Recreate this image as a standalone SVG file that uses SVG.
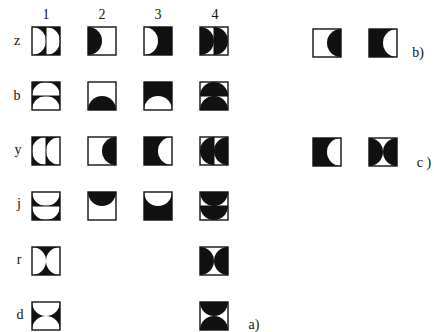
<svg xmlns="http://www.w3.org/2000/svg" xmlns:xlink="http://www.w3.org/1999/xlink" width="434" height="332" viewBox="0 0 434 332">
<style>
.bg{fill:#fff}
.k{fill:#111}
.w{fill:#fff}
.fr{fill:none;stroke:#111;stroke-width:1.4}
.dv{stroke:#111;stroke-width:1}
.t{font-family:"Liberation Serif","DejaVu Serif",serif;font-size:14px;fill:#111;text-anchor:middle}
</style>
<defs>
<path id="DL2" d="M0,0A14,14 0 0 1 0,28ZM14,0A14,14 0 0 1 14,28Z"/>
<path id="DL" d="M0,0A14,14 0 0 1 0,28Z"/>
<path id="DR2" d="M14,0A14,14 0 0 0 14,28ZM28,0A14,14 0 0 0 28,28Z"/>
<path id="DR" d="M28,0A14,14 0 0 0 28,28Z"/>
<path id="UB2" d="M0,14A14,14 0 0 1 28,14ZM0,28A14,14 0 0 1 28,28Z"/>
<path id="UB" d="M0,28A14,14 0 0 1 28,28Z"/>
<path id="DT2" d="M0,0A14,14 0 0 0 28,0ZM0,14A14,14 0 0 0 28,14Z"/>
<path id="DT" d="M0,0A14,14 0 0 0 28,0Z"/>
<path id="LR" d="M0,0A14,14 0 0 1 0,28ZM28,0A14,14 0 0 0 28,28Z"/>
<path id="TB" d="M0,0A14,14 0 0 0 28,0ZM0,28A14,14 0 0 1 28,28Z"/>
<rect id="box" width="28" height="28"/>
<line id="vl" x1="14" y1="0" x2="14" y2="28"/>
<line id="hl" x1="0" y1="14" x2="28" y2="14"/>
</defs>
<rect width="434" height="332" class="bg"/>

<g id="labels">
<text class="t" x="46" y="19" font-size="13">1</text>
<text class="t" x="102" y="19" font-size="13">2</text>
<text class="t" x="158" y="19" font-size="13">3</text>
<text class="t" x="215" y="19" font-size="13">4</text>
<text class="t" x="17" y="45">z</text>
<text class="t" x="17" y="100">b</text>
<text class="t" x="18" y="154">y</text>
<text class="t" x="19" y="208">j</text>
<text class="t" x="19" y="264">r</text>
<text class="t" x="20" y="319">d</text>
<text class="t" x="254" y="329">a)</text>
<text class="t" x="418" y="57">b)</text>
<text class="t" x="424" y="167">c )</text>
</g>

<!-- row z -->
<g id="z1" transform="translate(32,27)"><use href="#box" class="k"/><use href="#DL2" class="w"/><use href="#vl" class="dv"/><use href="#box" class="fr"/></g>
<g id="z2" transform="translate(88,27)"><use href="#box" class="w"/><use href="#DL" class="k"/><use href="#box" class="fr"/></g>
<g id="z3" transform="translate(144,27)"><use href="#box" class="k"/><use href="#DL" class="w"/><use href="#box" class="fr"/></g>
<g id="z4" transform="translate(200,27)"><use href="#box" class="w"/><use href="#DL2" class="k"/><use href="#vl" class="dv"/><use href="#box" class="fr"/></g>

<!-- row b -->
<g id="b1" transform="translate(32,82)"><use href="#box" class="k"/><use href="#UB2" class="w"/><use href="#hl" class="dv"/><use href="#box" class="fr"/></g>
<g id="b2" transform="translate(88,82)"><use href="#box" class="w"/><use href="#UB" class="k"/><use href="#box" class="fr"/></g>
<g id="b3" transform="translate(144,82)"><use href="#box" class="k"/><use href="#UB" class="w"/><use href="#box" class="fr"/></g>
<g id="b4" transform="translate(200,82)"><use href="#box" class="w"/><use href="#UB2" class="k"/><use href="#hl" class="dv"/><use href="#box" class="fr"/></g>

<!-- row y -->
<g id="y1" transform="translate(32,137)"><use href="#box" class="k"/><use href="#DR2" class="w"/><use href="#vl" class="dv"/><use href="#box" class="fr"/></g>
<g id="y2" transform="translate(88,137)"><use href="#box" class="w"/><use href="#DR" class="k"/><use href="#box" class="fr"/></g>
<g id="y3" transform="translate(144,137)"><use href="#box" class="k"/><use href="#DR" class="w"/><use href="#box" class="fr"/></g>
<g id="y4" transform="translate(200,137)"><use href="#box" class="w"/><use href="#DR2" class="k"/><use href="#vl" class="dv"/><use href="#box" class="fr"/></g>

<!-- row j -->
<g id="j1" transform="translate(32,192)"><use href="#box" class="k"/><use href="#DT2" class="w"/><use href="#hl" class="dv"/><use href="#box" class="fr"/></g>
<g id="j2" transform="translate(88,192)"><use href="#box" class="w"/><use href="#DT" class="k"/><use href="#box" class="fr"/></g>
<g id="j3" transform="translate(144,192)"><use href="#box" class="k"/><use href="#DT" class="w"/><use href="#box" class="fr"/></g>
<g id="j4" transform="translate(200,192)"><use href="#box" class="w"/><use href="#DT2" class="k"/><use href="#hl" class="dv"/><use href="#box" class="fr"/></g>

<!-- row r -->
<g id="r1" transform="translate(32,247)"><use href="#box" class="k"/><use href="#LR" class="w"/><use href="#box" class="fr"/></g>
<g id="r4" transform="translate(200,247)"><use href="#box" class="w"/><use href="#LR" class="k"/><use href="#box" class="fr"/></g>

<!-- row d -->
<g id="d1" transform="translate(32,302)"><use href="#box" class="k"/><use href="#TB" class="w"/><use href="#box" class="fr"/></g>
<g id="d4" transform="translate(200,302)"><use href="#box" class="w"/><use href="#TB" class="k"/><use href="#box" class="fr"/></g>

<!-- b) -->
<g id="bb1" transform="translate(313,29)"><use href="#box" class="w"/><use href="#DR" class="k"/><use href="#box" class="fr"/></g>
<g id="bb2" transform="translate(369,29)"><use href="#box" class="k"/><use href="#DR" class="w"/><use href="#box" class="fr"/></g>

<!-- c) -->
<g id="cc1" transform="translate(313,138)"><use href="#box" class="k"/><use href="#DR" class="w"/><use href="#box" class="fr"/></g>
<g id="cc2" transform="translate(369,138)"><use href="#box" class="w"/><use href="#LR" class="k"/><use href="#box" class="fr"/></g>
</svg>
